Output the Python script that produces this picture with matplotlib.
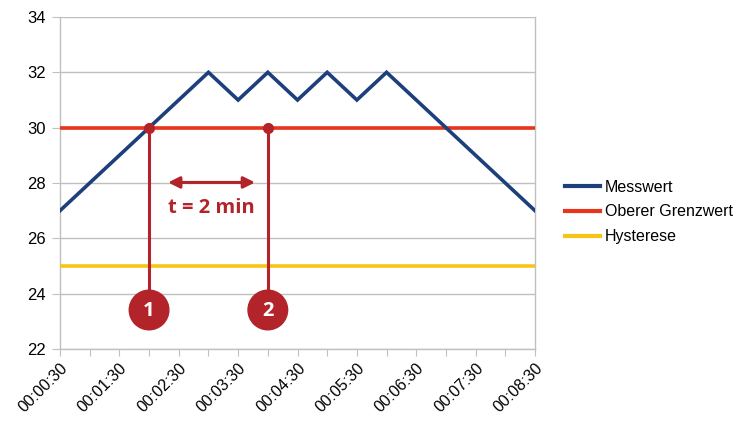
import matplotlib.pyplot as plt
from matplotlib.patches import Ellipse

plt.rcParams['font.family'] = ['Liberation Sans', 'DejaVu Sans']

zeiten = ['00:00:30', '00:01:00', '00:01:30', '00:02:00', '00:02:30', '00:03:00',
          '00:03:30', '00:04:00', '00:04:30', '00:05:00', '00:05:30', '00:06:00',
          '00:06:30', '00:07:00', '00:07:30', '00:08:00', '00:08:30']
messwert = [27, 28, 29, 30, 31, 32, 31, 32, 31, 32, 31, 32, 31, 30, 29, 28, 27]
grenzwert = [30] * len(zeiten)
hysterese = [25] * len(zeiten)
marken = [3, 7]          # index of the two marked points
marken_namen = ['1', '2']
marke_y = 23.41

navy = '#1d3f7c'
rot = '#e8341c'
gelb = '#f6c516'
dunkelrot = '#b3232a'
grau = '#c0c0c0'

fig = plt.figure(figsize=(7.39, 4.21), dpi=100)
ax = fig.add_axes([60/739, 1 - 349/421, 475/739, 332/421])

x = list(range(len(zeiten)))
ax.plot(x, hysterese, color=gelb, lw=2.6, label='Hysterese', zorder=3)
ax.plot(x, grenzwert, color=rot, lw=2.6, label='Oberer Grenzwert', zorder=3)
ax.plot(x, messwert, color=navy, lw=2.6, label='Messwert', zorder=4, solid_joinstyle='miter')

ax.set_xlim(0, len(zeiten) - 1)
ax.set_ylim(22, 34)
ax.set_yticks(range(22, 35, 2))
ax.set_xticks(x)
ax.set_xticklabels([z if i % 2 == 0 else '' for i, z in enumerate(zeiten)],
                   rotation=45, ha='right', rotation_mode='anchor', fontsize=11.5)
ax.tick_params(axis='y', length=6, color=grau, labelsize=12, pad=4)
ax.tick_params(axis='x', length=5, color=grau, pad=3)
ax.yaxis.grid(True, color=grau, lw=1)
ax.set_axisbelow(True)
for s in ['left', 'right', 'bottom']:
    ax.spines[s].set_color(grau)
    ax.spines[s].set_linewidth(1)
ax.spines['top'].set_visible(False)

# annotations
for m, name in zip(marken, marken_namen):
    ax.plot([m, m], [grenzwert[m], marke_y], color=dunkelrot, lw=2.2, zorder=5)
    ax.plot(m, grenzwert[m], 'o', color=dunkelrot, ms=7, zorder=6)
    # circle in pixel-equal size
    rx = 19.8 / (475 / 16)
    ry = 19.8 / (332 / 12)
    ax.add_patch(Ellipse((m, marke_y), 2*rx, 2*ry, color=dunkelrot, zorder=7, clip_on=False))
    ax.text(m, marke_y - 0.05, name, color='white', fontsize=14.5, fontweight='bold',
            ha='center', va='center', zorder=8, family=['Open Sans', 'DejaVu Sans'])

ax.annotate('', xy=(3.64, 28.02), xytext=(6.57, 28.02),
            arrowprops=dict(arrowstyle='<|-|>', color=dunkelrot, lw=2.2,
                            mutation_scale=17, shrinkA=0, shrinkB=0), zorder=6)
ax.text(5.09, 27.1, 't = 2 min', color=dunkelrot, fontsize=14.5, fontweight='bold',
        ha='center', va='center', family=['Open Sans', 'DejaVu Sans'])

handles, labels = ax.get_legend_handles_labels()
order = [2, 1, 0]
leg = fig.legend([handles[i] for i in order], [labels[i] for i in order],
                 loc='center left', bbox_to_anchor=(565/739, 1 - 212/421),
                 frameon=False, fontsize=11.5, handlelength=2.2, handletextpad=0.3,
                 labelspacing=0.62, borderpad=0, borderaxespad=0)
for l in leg.get_lines():
    l.set_linewidth(3)

fig.savefig('out.png', dpi=100)
